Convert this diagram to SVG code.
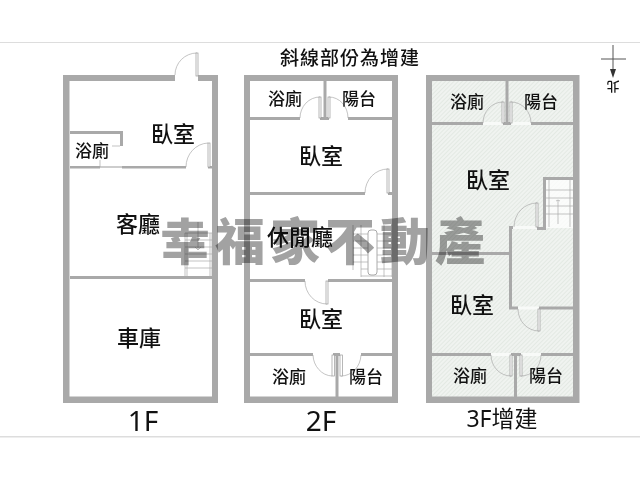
<svg xmlns="http://www.w3.org/2000/svg" width="640" height="480" viewBox="0 0 640 480">
<defs>
<style>
text{font-family:"Noto Sans CJK TC","Noto Sans",sans-serif;fill:#111;text-anchor:middle;font-weight:500}
.w{fill:#a9a9a9}
.b{font-size:22px}
.s{font-size:17px}
.f{font-family:"Noto Sans","Noto Sans CJK TC",sans-serif;font-size:28px;font-weight:400}
.d{fill:none;stroke:#aaa;stroke-width:.7}
.l{fill:#fff;stroke:#999;stroke-width:.7}
.st{fill:none;stroke:#aaa;stroke-width:.7}
.gap{fill:#f8faf8}
.wm{font-size:50px;font-weight:900;fill:#a2a2a2;letter-spacing:5px;text-anchor:start;mix-blend-mode:multiply}
</style>
<pattern id="hatch" width="3" height="3" patternUnits="userSpaceOnUse" patternTransform="rotate(45)">
<rect width="3" height="3" fill="#f0f3f0"/>
<rect width="1" height="3" fill="#e3e9e3"/>
</pattern>
</defs>
<rect width="640" height="480" fill="#fff"/>
<rect x="0" y="42" width="640" height="1" fill="#ddd"/>
<rect x="0" y="436" width="640" height="1.5" fill="#ddd"/>
<text x="350" y="65" style="font-size:19px;letter-spacing:1px">斜線部份為增建</text>

<g id="floor-1">
<path class="w" fill-rule="evenodd" d="M63 75H218V403H63ZM69.500 81V396.500H212V81Z"/>
<rect x="175" y="75" width="23" height="6" fill="#fff"/>
<rect x="198" y="75" width="2" height="6" class="w"/>
<path class="w" d="M70 131h53v15h-3v-12h-50zM70 166h30v2.500h-30zM122 166h64v2.500h-64zM70 276h142v3h-142z"/>
<rect x="208" y="166" width="4" height="2.500" class="w"/>
<path class="d" d="M175 75A22 22 0 0 1 197 53M186 167A23 24 0 0 1 208 143"/>
<rect x="196" y="53" width="2" height="23" class="l"/>
<rect x="208" y="143" width="2" height="24" class="l"/>
<path class="d" d="M100 160v7h22M112 146h8M100 167h22"/>
<path class="st" d="M185 233h27v44h-27zM187 233v44M210 233v44M185 240h27M185 247h27M185 254h27M185 261h27M185 268h27M198 222v28M195 247l3 3 3-3"/>
<text class="b" x="173" y="142">臥室</text>
<text class="s" x="92" y="157">浴廁</text>
<text class="b" x="138" y="232">客廳</text>
<text class="b" x="139" y="346">車庫</text>
<text class="f" x="143" y="431">1F</text>
</g>

<g id="floor-2">
<path class="w" fill-rule="evenodd" d="M244 75H398V403H244ZM250 81V396.500H392V81Z"/>
<path class="w" d="M250 117h50v3h-50zM320 117h9v3h-9zM348 117h44v3h-44zM323.500 81h3v37h-3zM250 192h115v3h-115zM388 192h4v3h-4zM250 279h55v3h-55zM328 279h64v3h-64zM250 353h63v3h-63zM333 353h7v3h-7zM361 353h31v3h-31zM335.500 354h3v43h-3z"/>
<path class="d" d="M300 118A20 21 0 0 1 320 97M348 118A19 21 0 0 0 329 97M365 193A23 24 0 0 1 388 169M305 281A22 23 0 0 0 327 304M313 355A20 22 0 0 0 332 376M361 355A20 22 0 0 1 341 376"/>
<rect x="319" y="97" width="2" height="21" class="l"/>
<rect x="328" y="97" width="2" height="21" class="l"/>
<rect x="387" y="169" width="2" height="24" class="l"/>
<rect x="326" y="281" width="2" height="23" class="l"/>
<rect x="332" y="355" width="2.500" height="21" class="l"/>
<rect x="340" y="355" width="2.500" height="21" class="l"/>
<path class="st" d="M353 234h39M353 241h39M353 248h39M353 255h39M353 262h39M361 269h31M361 276h31M353 225v45M361 225v52M384 225v52M392 225v52"/>
<rect x="368" y="230" width="9" height="45" rx="3" fill="#fff" stroke="#aaa"/>
<text class="s" x="285" y="105">浴廁</text>
<text class="s" x="359" y="105">陽台</text>
<text class="b" x="321" y="164">臥室</text>
<text class="b" x="300" y="245">休閒廳</text>
<text class="b" x="321" y="327">臥室</text>
<text class="s" x="289" y="383">浴廁</text>
<text class="s" x="366" y="383">陽台</text>
<text class="f" x="321" y="431">2F</text>
</g>

<g id="floor-3">
<rect x="432" y="81" width="141" height="316" fill="url(#hatch)"/>
<path class="gap" d="M483 122h20v3h-20zM511 122h20v3h-20zM513 226h24v3h-24zM518 306.500h21v3h-21zM491 353h20v3h-20zM521 353h20v3h-20z"/>
<path class="w" fill-rule="evenodd" d="M426 75H579.500V403H426ZM432 81V396.500H573V81Z"/>
<path class="w" d="M432 122h51v3h-51zM503 122h8v3h-8zM531 122h42v3h-42zM505.500 81h3v42h-3zM432 252h77v3h-77zM509 226h4v3h-4zM509 226h3v83h-3zM509 306.500h9v3h-9zM539 306.500h34v3h-34zM432 353h59v3h-59zM511 353h10v3h-10zM541 353h32v3h-32zM514 354h3v43h-3z"/>
<path class="w" d="M543 177h30v3h-27v50h-9v-3h6z"/>
<rect x="546" y="180" width="27" height="48" fill="#fff" opacity=".75"/>
<path class="st" d="M549 180v47M570 180v47M546 190h27M546 198h27M546 206h27M546 214h27M558 200v24M556 201l2-1 2 1"/>
<path class="d" d="M483 123A20 21 0 0 1 503 102M531 123A20 21 0 0 0 511 102M514 227A23 24 0 0 1 537 203M518 309A21 22 0 0 0 539 331M491 355A20 21 0 0 0 511 376M541 355A20 21 0 0 1 521 376"/>
<rect x="502" y="102" width="2" height="21" class="l"/>
<rect x="510" y="102" width="2" height="21" class="l"/>
<rect x="536" y="203" width="2" height="24" class="l"/>
<rect x="538" y="309" width="2" height="22" class="l"/>
<rect x="510" y="355" width="2" height="21" class="l"/>
<rect x="520" y="355" width="2" height="21" class="l"/>
<text class="s" x="467" y="108">浴廁</text>
<text class="s" x="541" y="108">陽台</text>
<text class="b" x="488" y="188">臥室</text>
<text class="b" x="472" y="313">臥室</text>
<text class="s" x="470" y="382">浴廁</text>
<text class="s" x="546" y="382">陽台</text>
<text x="502" y="427" style="font-family:'Noto Sans','Noto Sans CJK TC',sans-serif;font-size:23px;font-weight:400">3F增建</text>
</g>

<g id="north">
<path d="M613 45V72M601 59H626" fill="none" stroke="#555" stroke-width="1"/>
<path d="M610 69H616L613 78Z" fill="#333"/>
<text transform="rotate(180 613 87)" x="613" y="92" style="font-size:13px">北</text>
</g>

<g id="watermark">
<text class="wm" x="160" y="260">幸福家不動產</text>
</g>
</svg>
